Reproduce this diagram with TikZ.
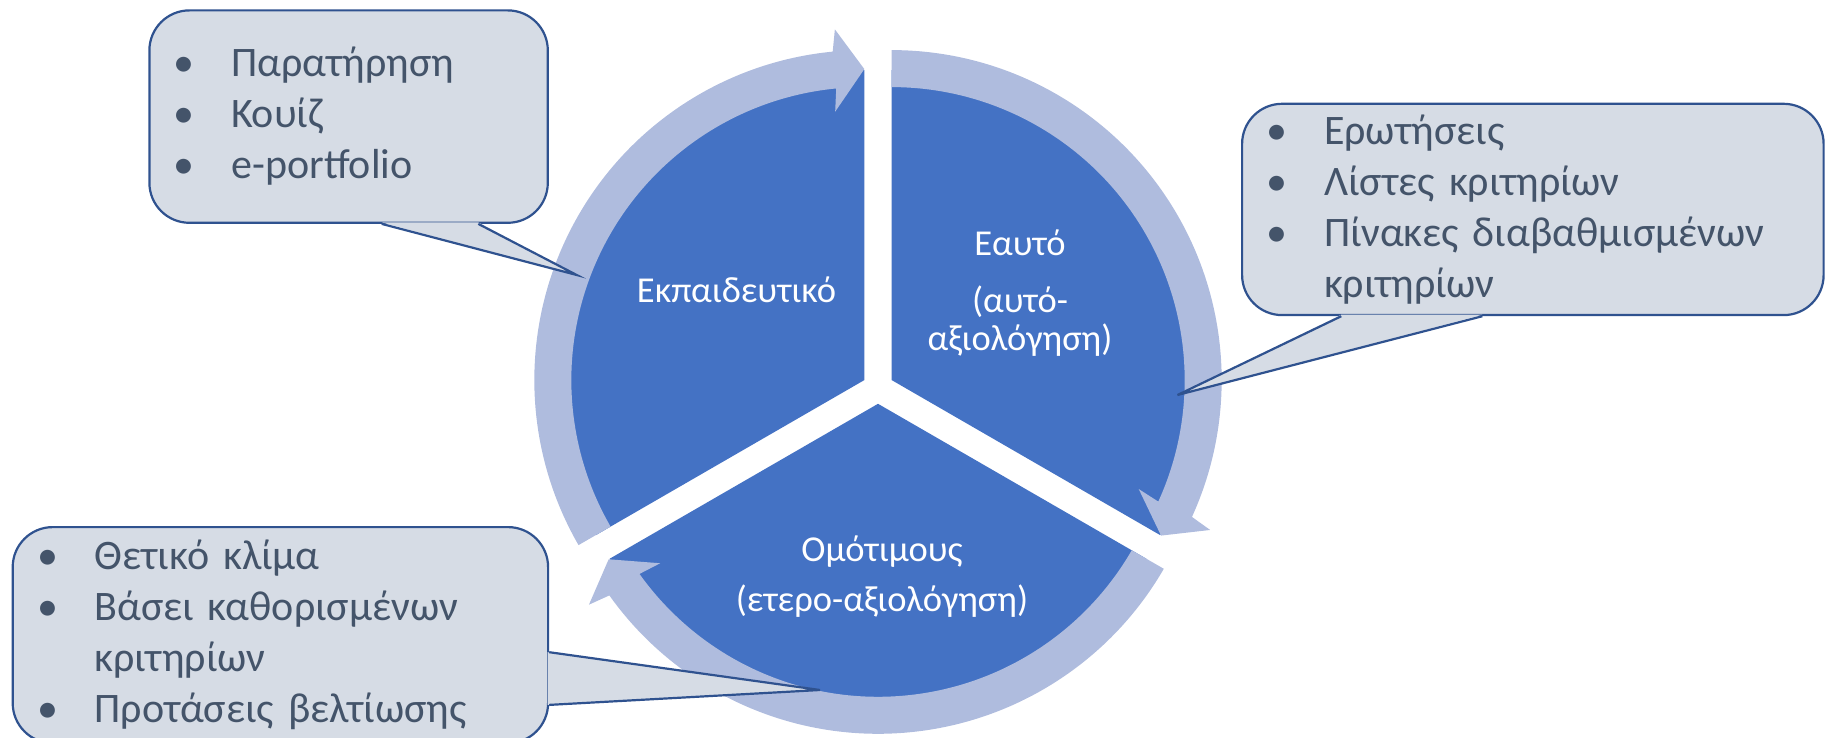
\documentclass[tikz,border=0pt]{standalone}
\usepackage{fontspec}
\setmainfont{Carlito}
\usetikzlibrary{calc}
\definecolor{segblue}{RGB}{68,114,196}
\definecolor{bandblue}{RGB}{175,188,222}
\definecolor{boxfill}{RGB}{214,220,229}
\definecolor{boxline}{RGB}{47,82,143}
\definecolor{boxtext}{RGB}{68,84,106}
\newcommand\bul{\makebox[57.5pt][l]{•}}
\newcommand\ind{\hspace*{57.5pt}}
\begin{document}
\begin{tikzpicture}[x=1pt,y=1pt,every node/.style={font=\fontsize{36.5}{38}\selectfont},
  seg/.style={fill=segblue},band/.style={fill=bandblue},
  label/.style={text=white,align=center,anchor=base,inner sep=0pt},
  callout/.style={draw=boxline,line width=2.2pt,fill=boxfill,rounded corners=40pt,anchor=north west,
    inner xsep=24.5pt,inner ysep=0pt,align=left,text=boxtext,font=\fontsize{42}{51}\selectfont},
  tail/.style={draw=boxline,line width=2.2pt}]
\useasboundingbox (0,0) rectangle (1825,737);
\coordinate (o)  at (878,349);
\coordinate (ul) at ($(o)+(150:15.8)$);
\coordinate (ur) at ($(o)+(30:15.8)$);
\coordinate (bt) at ($(o)+(270:15.8)$);
\fill[seg] (ul) -- ++(90:310) arc[start angle=90,end angle=210,radius=310] -- cycle;
\fill[seg] (ur) -- ++(-30:310) arc[start angle=-30,end angle=90,radius=310] -- cycle;
\fill[seg] (bt) -- ++(210:310) arc[start angle=210,end angle=330,radius=310] -- cycle;
\fill[band] ($(ul)+(210:330)$) arc[start angle=210,end angle=95.5,radius=330] -- ($(ul)+(94.8:352)$)
  -- ($(ul)+(90:311)$) -- ($(ul)+(96.2:270)$) -- ($(ul)+(95.5:293)$) arc[start angle=95.5,end angle=210,radius=293] -- cycle;
\fill[band] ($(ur)+(90:330)$) arc[start angle=90,end angle=-24.5,radius=330] -- ($(ur)+(-25.2:352)$)
  -- ($(ur)+(-30:311)$) -- ($(ur)+(-23.8:270)$) -- ($(ur)+(-24.5:293)$) arc[start angle=-24.5,end angle=90,radius=293] -- cycle;
\fill[band] ($(bt)+(330:330)$) arc[start angle=330,end angle=215.5,radius=330] -- ($(bt)+(214.8:352)$)
  -- ($(bt)+(210:311)$) -- ($(bt)+(216.2:270)$) -- ($(bt)+(215.5:293)$) arc[start angle=215.5,end angle=330,radius=293] -- cycle;
\node[label] (teacher) at (736.5,434) {Εκπαιδευτικό};
\node[label] (self)    at (1020,386)  {Εαυτό\\[19pt](αυτό-\\αξιολόγηση)};
\node[label] (peer)    at (882,126)   {Ομότιμους\\[12pt](ετερο-αξιολόγηση)};
\node[callout,minimum width=398.4pt,minimum height=212.4pt,text width=349.4pt] (teachbox) at (148.3,727.7)
  {\bul Παρατήρηση\\\bul Κουίζ\\\bul e-portfolio};
\node[callout,minimum width=581.5pt,minimum height=211.3pt,text width=532.5pt] (selfbox) at (1241,634.3)
  {\bul Ερωτήσεις\\\bul Λίστες κριτηρίων\\\bul Πίνακες διαβαθμισμένων\\\ind κριτηρίων};
\node[callout,minimum width=535.4pt,minimum height=216pt,text width=486.4pt] (peerbox) at (11.6,211)
  {\bul Θετικό κλίμα\\\bul Βάσει καθορισμένων\\\ind κριτηρίων\\\bul Προτάσεις βελτίωσης};
\coordinate (teachtip) at (576.7,462);
\coordinate (selftip)  at (1177.5,342);
\coordinate (peertip)  at (820,47);
\fill[boxfill] ($(teachbox.south west)+(233.4,1.5)$) -- (teachtip) -- ($(teachbox.south west)+(330,1.5)$) -- cycle;
\draw[tail] ($(teachbox.south west)+(233.4,0)$) -- (teachtip) -- ($(teachbox.south west)+(330,0)$);
\fill[boxfill] ($(selfbox.south west)+(100.3,1.5)$) -- (selftip) -- ($(selfbox.south west)+(241.4,1.5)$) -- cycle;
\draw[tail] ($(selfbox.south west)+(100.3,0)$) -- (selftip) -- ($(selfbox.south west)+(241.4,0)$);
\fill[boxfill] ($(peerbox.south east)+(-1.5,92)$) -- (peertip) -- ($(peerbox.south east)+(-1.5,39.3)$) -- cycle;
\draw[tail] ($(peerbox.south east)+(0,92)$) -- (peertip) -- ($(peerbox.south east)+(0,39.3)$);
\end{tikzpicture}
\end{document}
